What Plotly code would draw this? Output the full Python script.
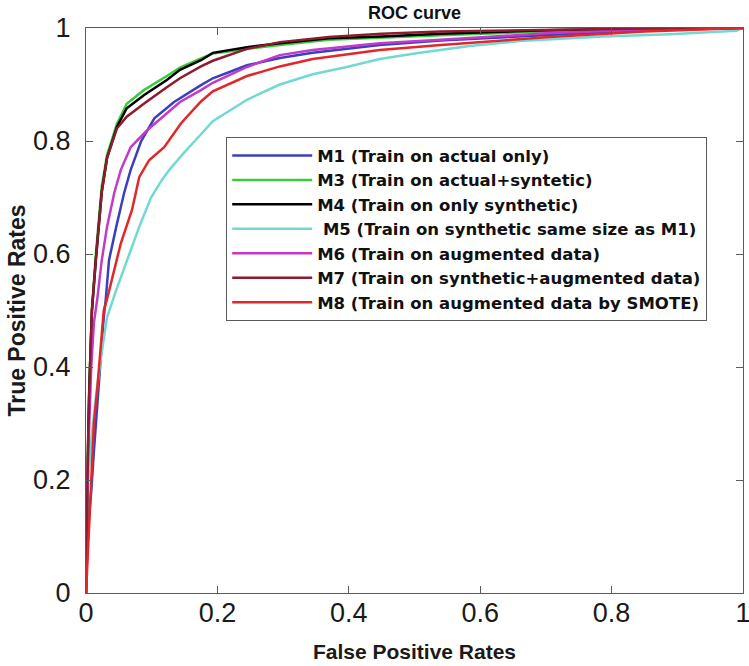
import plotly.graph_objects as go

# ---- data ----
names = [
    "M1 (Train on actual only)",
    "M3 (Train on actual+syntetic)",
    "M4 (Train on only synthetic)",
    " M5 (Train on synthetic same size as M1)",
    "M6 (Train on augmented data)",
    "M7 (Train on synthetic+augmented data)",
    "M8 (Train on augmented data by SMOTE)",
]

m1_fpr = [0, 0.002, 0.005, 0.008, 0.012, 0.015, 0.02, 0.027, 0.03, 0.035, 0.046, 0.058, 0.068, 0.073,
          0.084, 0.104, 0.134, 0.175, 0.193, 0.245, 0.295, 0.345, 0.397, 0.447, 0.54, 0.706, 0.85, 1]
m1_tpr = [0, 0.08, 0.14, 0.18, 0.25, 0.30, 0.39, 0.488, 0.519, 0.589, 0.648, 0.708, 0.749, 0.766,
          0.80, 0.84, 0.869, 0.899, 0.911, 0.934, 0.947, 0.956, 0.963, 0.97, 0.978, 0.988, 0.996, 1]

m3_fpr = [0, 0.001, 0.003, 0.005, 0.009, 0.015, 0.02, 0.024, 0.032, 0.04, 0.047, 0.062, 0.088, 0.123,
          0.143, 0.175, 0.193, 0.245, 0.295, 0.37, 0.45, 0.54, 0.7, 0.85, 1]
m3_tpr = [0, 0.13, 0.25, 0.37, 0.50, 0.60, 0.66, 0.72, 0.775, 0.805, 0.83, 0.866, 0.89, 0.915,
          0.93, 0.946, 0.955, 0.963, 0.97, 0.979, 0.983, 0.987, 0.994, 0.998, 1]

m4_fpr = [0, 0.001, 0.003, 0.005, 0.009, 0.015, 0.02, 0.024, 0.032, 0.04, 0.047, 0.062, 0.088, 0.123,
          0.143, 0.175, 0.193, 0.245, 0.295, 0.37, 0.45, 0.54, 0.7, 0.85, 1]
m4_tpr = [0, 0.12, 0.24, 0.36, 0.50, 0.59, 0.65, 0.71, 0.77, 0.80, 0.825, 0.858, 0.881, 0.908,
          0.926, 0.943, 0.956, 0.966, 0.973, 0.982, 0.985, 0.99, 0.996, 0.999, 1]

m5_fpr = [0, 0.002, 0.008, 0.015, 0.023, 0.032, 0.046, 0.062, 0.081, 0.099, 0.116, 0.129, 0.149, 0.175,
          0.193, 0.245, 0.295, 0.345, 0.397, 0.447, 0.508, 0.584, 0.66, 0.787, 0.889, 0.99, 1]
m5_tpr = [0, 0.18, 0.271, 0.347, 0.418, 0.488, 0.536, 0.589, 0.648, 0.700, 0.732, 0.752, 0.779, 0.812,
          0.835, 0.873, 0.90, 0.918, 0.931, 0.945, 0.956, 0.968, 0.977, 0.985, 0.989, 0.995, 1]

m6_fpr = [0, 0.001, 0.002, 0.005, 0.008, 0.012, 0.017, 0.024, 0.032, 0.043, 0.053, 0.068, 0.093, 0.129,
          0.143, 0.175, 0.193, 0.245, 0.295, 0.345, 0.447, 0.54, 0.706, 0.85, 1]
m6_tpr = [0, 0.10, 0.20, 0.30, 0.40, 0.478, 0.519, 0.589, 0.648, 0.708, 0.749, 0.789, 0.819, 0.855,
          0.869, 0.89, 0.903, 0.931, 0.952, 0.961, 0.973, 0.979, 0.991, 0.997, 1]

m7_fpr = [0, 0.001, 0.003, 0.005, 0.009, 0.015, 0.02, 0.024, 0.032, 0.04, 0.047, 0.062, 0.088, 0.123,
          0.143, 0.175, 0.193, 0.245, 0.295, 0.37, 0.45, 0.54, 0.7, 0.85, 1]
m7_tpr = [0, 0.14, 0.26, 0.36, 0.50, 0.59, 0.65, 0.71, 0.77, 0.80, 0.822, 0.843, 0.866, 0.895,
          0.911, 0.932, 0.942, 0.963, 0.975, 0.984, 0.99, 0.994, 0.997, 0.999, 1]

m8_fpr = [0, 0.001, 0.003, 0.005, 0.008, 0.012, 0.017, 0.02, 0.023, 0.027, 0.032, 0.04, 0.053, 0.07,
          0.081, 0.096, 0.119, 0.145, 0.175, 0.193, 0.245, 0.295, 0.345, 0.447, 0.54, 0.706, 0.85, 1]
m8_tpr = [0, 0.03, 0.08, 0.124, 0.20, 0.30, 0.36, 0.40, 0.44, 0.50, 0.52, 0.559, 0.619, 0.678,
          0.736, 0.766, 0.789, 0.832, 0.87, 0.888, 0.915, 0.932, 0.945, 0.961, 0.97, 0.984, 0.994, 1]

colors = ["#3A3FC0", "#3CCB3C", "#000000", "#72D9D2", "#C23AC6", "#8E1B2E", "#E3262A"]

x_ticks = [0, 0.2, 0.4, 0.6, 0.8, 1]
y_ticks = [0, 0.2, 0.4, 0.6, 0.8, 1]
x_tick_text = ["0", "0.2", "0.4", "0.6", "0.8", "1"]
y_tick_text = ["0", "0.2", "0.4", "0.6", "0.8", "1"]

series = [(m1_fpr, m1_tpr), (m3_fpr, m3_tpr), (m4_fpr, m4_tpr), (m5_fpr, m5_tpr),
          (m6_fpr, m6_tpr), (m7_fpr, m7_tpr), (m8_fpr, m8_tpr)]

FONT = "Arial, Liberation Sans, sans-serif"

fig = go.Figure()
for (xs, ys), nm, c in zip(series, names, colors):
    fig.add_trace(go.Scatter(x=xs, y=ys, mode="lines", name="<b>" + nm + "</b>",
                             line=dict(color=c, width=2.5)))

axis_common = dict(
    showline=True, linecolor="#5a5a5a", linewidth=1.2, mirror="ticks",
    ticks="inside", ticklen=7, tickcolor="#5a5a5a", tickwidth=1.2,
    showgrid=False, zeroline=False, automargin=False, ticklabeloverflow="allow",
    tickfont=dict(family=FONT, size=27, color="#1a1a1a"),
)

fig.update_layout(
    width=749, height=666,
    margin=dict(l=86, r=6, t=28, b=73),
    paper_bgcolor="white", plot_bgcolor="white",
    title=dict(text="<b>ROC curve</b>", x=(86 + 743) / 2 / 749, xanchor="center",
               y=1 - 13 / 666, yanchor="middle",
               font=dict(family=FONT, size=18, color="#111111")),
    xaxis=dict(range=[0, 1], tickvals=x_ticks, ticktext=x_tick_text, ticklabelstandoff=-5,
               title=dict(text="<b>False Positive Rates</b>", standoff=17,
                          font=dict(family=FONT, size=21, color="#1a1a1a")),
               **axis_common),
    yaxis=dict(range=[0, 1], tickvals=y_ticks, ticktext=y_tick_text, ticklabelstandoff=9,
               title=dict(text="<b>True Positive Rates</b>", standoff=0,
                          font=dict(family=FONT, size=23, color="#1a1a1a")),
               **axis_common),
    legend=dict(x=(226 - 86) / 657, y=(593 - 137) / 565, xanchor="left", yanchor="top",
                bgcolor="white", bordercolor="#5a5a5a", borderwidth=1.2,
                font=dict(family="DejaVu Sans, sans-serif", size=16.5, color="#111111"),
                itemwidth=80, tracegroupgap=0),
    showlegend=True,
)

fig.write_html("out.html", config={"displayModeBar": False},
               post_script="document.body.style.margin='0';document.body.style.padding='0';")
